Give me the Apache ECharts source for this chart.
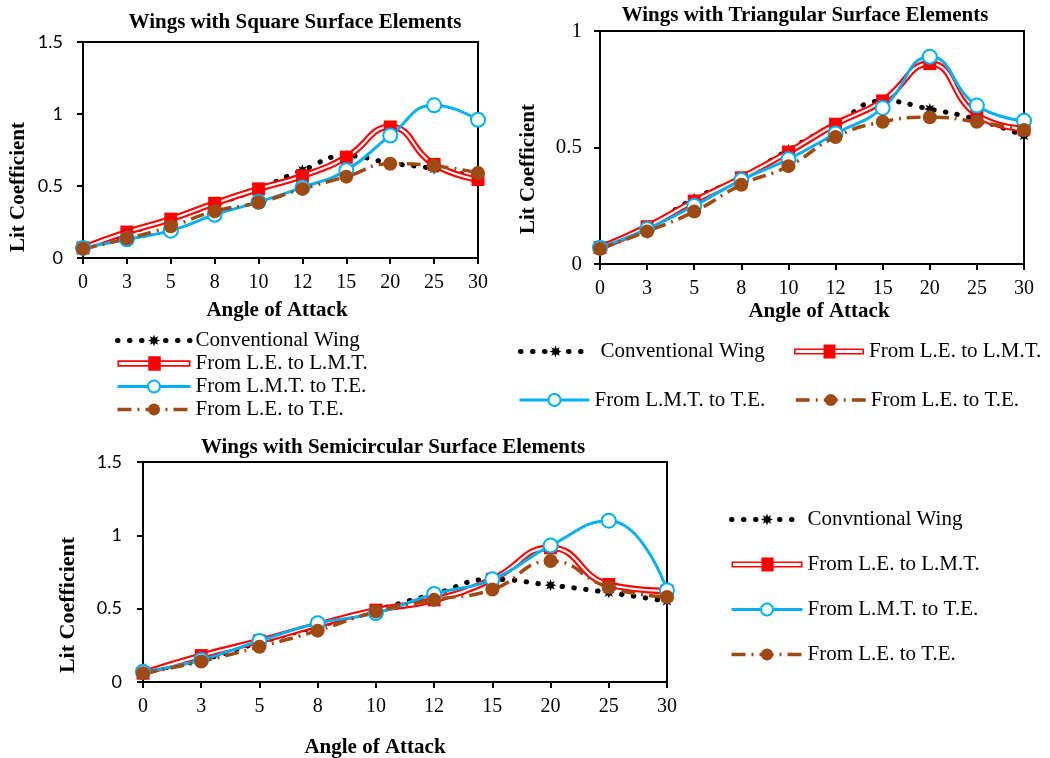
<!DOCTYPE html>
<html>
<head>
<meta charset="utf-8">
<title>Lift coefficient of wings with surface elements</title>
<script src="https://cdn.jsdelivr.net/npm/echarts@6.0.0/dist/echarts.min.js"></script>
<style>
html, body { margin: 0; padding: 0; background: #fff; }
#chart { width: 1050px; height: 758px; }
</style>
</head>
<body>
<div id="chart"></div>
<script>
var angles = ['0', '3', '5', '8', '10', '12', '15', '20', '25', '30'];

// square surface elements
var sqConv   = [0.07, 0.17, 0.27, 0.37, 0.48, 0.61, 0.71, 0.66, 0.62, 0.56];
var sqLeLmt  = [0.07, 0.18, 0.27, 0.38, 0.48, 0.57, 0.70, 0.91, 0.65, 0.545];
var sqLmtTe  = [0.07, 0.13, 0.19, 0.30, 0.39, 0.49, 0.61, 0.85, 1.06, 0.96];
var sqLeTe   = [0.065, 0.135, 0.22, 0.325, 0.385, 0.48, 0.565, 0.655, 0.64, 0.59];

// triangular surface elements
var triConv  = [0.07, 0.16, 0.28, 0.37, 0.49, 0.60, 0.70, 0.665, 0.62, 0.55];
var triLeLmt = [0.07, 0.16, 0.27, 0.37, 0.48, 0.60, 0.70, 0.86, 0.64, 0.58];
var triLmtTe = [0.07, 0.15, 0.25, 0.36, 0.45, 0.56, 0.67, 0.89, 0.68, 0.615];
var triLeTe  = [0.065, 0.14, 0.225, 0.34, 0.42, 0.545, 0.61, 0.63, 0.61, 0.575];

// semicircular surface elements
var semiConv  = [0.07, 0.15, 0.27, 0.38, 0.49, 0.60, 0.70, 0.66, 0.61, 0.55];
var semiLeLmt = [0.06, 0.18, 0.28, 0.39, 0.49, 0.56, 0.70, 0.915, 0.665, 0.62];
var semiLmtTe = [0.07, 0.15, 0.28, 0.40, 0.47, 0.60, 0.70, 0.93, 1.10, 0.625];
var semiLeTe  = [0.06, 0.14, 0.24, 0.35, 0.48, 0.56, 0.63, 0.825, 0.645, 0.58];

var CONV = 'Conventional Wing';
var CONV_B = 'Convntional Wing';
var LE_LMT = 'From L.E. to L.M.T.';
var LMT_TE = 'From L.M.T. to T.E.';
var LE_TE = 'From L.E. to T.E.';

var SERIF = '"Liberation Serif", "Times New Roman", serif';
var SANS = 'Lato, "Liberation Sans", sans-serif';
var RED = '#FF0000', BLUE = '#00B0F0', BROWN = '#9E4A12';

var STAR = 'path://M20,10L14.62,11.91L17.07,17.07L11.91,14.62L10,20L8.09,14.62L2.93,17.07L5.38,11.91L0,10L5.38,8.09L2.93,2.93L8.09,5.38L10,0L11.91,5.38L17.07,2.93L14.62,8.09Z';
// double red line with a square, for the legend
var RED_ICON = 'path://M0,4H70V5.6H0Z M0,8.4H70V10H0Z M0,4H1.6V10H0Z M68.4,4H70V10H68.4Z M29.5,0H41.5V14H29.5Z';

function wingSeries(idx, convName, conv, leLmt, lmtTe, leTe) {
    var base = {type: 'line', xAxisIndex: idx, yAxisIndex: idx, smooth: 0.5, animation: false, silent: true};
    function s(o) { return Object.assign({}, base, o); }
    return [
        s({name: convName, data: conv, symbol: STAR, symbolSize: 12, color: '#000',
           lineStyle: {color: '#000', width: 5, type: [0.5, 11.5], cap: 'round'}}),
        s({name: LE_LMT, data: leLmt, symbol: 'none', color: RED, lineStyle: {color: RED, width: 6.5}}),
        s({name: LE_LMT, data: leLmt, symbol: 'none', color: RED, lineStyle: {color: '#fff', width: 2.2}}),
        s({name: LE_LMT, data: leLmt, symbol: 'rect', symbolSize: 13, color: RED, lineStyle: {width: 0, opacity: 0}}),
        s({name: LMT_TE, data: lmtTe, symbol: 'emptyCircle', symbolSize: 14, color: BLUE,
           itemStyle: {borderWidth: 3}, lineStyle: {color: BLUE, width: 3}}),
        s({name: LE_TE, data: leTe, symbol: 'circle', symbolSize: 14, color: BROWN,
           lineStyle: {color: BROWN, width: 3.5, type: [14, 6, 2, 6]}})
    ];
}

function xAxisFor(idx, margin) {
    return {
        type: 'category', gridIndex: idx, data: angles, boundaryGap: false,
        axisLine: {lineStyle: {color: '#000', width: 2}},
        axisTick: {show: true, interval: 0, length: 6, lineStyle: {color: '#000', width: 2}},
        axisLabel: {interval: 0, color: '#000', fontFamily: SERIF, fontSize: 20, margin: margin},
        splitLine: {show: false}
    };
}

function yAxisFor(idx, max, font, size, margin) {
    return {
        type: 'value', gridIndex: idx, min: 0, max: max, interval: 0.5,
        axisLine: {show: true, lineStyle: {color: '#000', width: 2}},
        axisTick: {show: true, length: 6, lineStyle: {color: '#000', width: 2}},
        axisLabel: {color: '#000', fontFamily: font, fontSize: size, margin: margin},
        splitLine: {show: false}
    };
}

function legendAt(left, top, names, opts) {
    return Object.assign({
        orient: 'vertical', left: left, top: top, padding: 0,
        itemWidth: 70, itemHeight: 15, itemGap: 2, selectedMode: false,
        lineStyle: {width: 'inherit'},
        textStyle: {color: '#000', fontFamily: SERIF, fontSize: 21, lineHeight: 21},
        data: names.map(function (n) {
            return n === LE_LMT ? {name: n, icon: RED_ICON, itemStyle: {borderWidth: 0}} : {name: n};
        })
    }, opts || {});
}

function label(text, x, y, size, rotate) {
    return {
        type: 'text', x: x, y: y, rotation: rotate ? Math.PI / 2 : 0, silent: true,
        style: {text: text, fill: '#000', font: 'bold ' + size + 'px ' + SERIF,
                textAlign: 'center', textVerticalAlign: 'middle', align: 'center', verticalAlign: 'middle'}
    };
}

var gridBox = {show: true, borderColor: '#000', borderWidth: 2, backgroundColor: 'transparent'};

var option = {
    backgroundColor: '#fff',
    animation: false,
    grid: [
        Object.assign({left: 83, top: 42, width: 395, height: 216}, gridBox),
        Object.assign({left: 600, top: 31, width: 424, height: 233}, gridBox),
        Object.assign({left: 143, top: 462, width: 524, height: 220}, gridBox)
    ],
    xAxis: [xAxisFor(0, 15), xAxisFor(1, 15), xAxisFor(2, 15)],
    yAxis: [
        yAxisFor(0, 1.5, SANS, 18, 20),
        yAxisFor(1, 1, SERIF, 21, 18),
        yAxisFor(2, 1.5, SANS, 18, 21)
    ],
    legend: [
        legendAt(115, 330, [CONV, LE_LMT, LMT_TE, LE_TE], {itemWidth: 73, itemGap: 2}),
        legendAt(518, 341, [CONV], {textStyle: {color: '#000', fontFamily: SERIF, fontSize: 21, lineHeight: 21, padding: [0, 0, 0, 5]}}),
        legendAt(794, 341, [LE_LMT]),
        legendAt(518, 389.5, [LMT_TE]),
        legendAt(794, 389.5, [LE_TE]),
        legendAt(729, 509, [CONV_B, LE_LMT, LMT_TE, LE_TE], {itemWidth: 71, itemGap: 24})
    ],
    graphic: [
        label('Wings with Square Surface Elements', 295, 23, 21),
        label('Angle of Attack', 277, 311, 21),
        label('Lit Coefficient', 19, 187, 21, true),
        label('Wings with Triangular Surface Elements', 805, 16, 21),
        label('Angle of Attack', 819, 312, 21),
        label('Lit Coefficient', 529, 169, 21, true),
        label('Wings with Semicircular Surface Elements', 393, 448, 21),
        label('Angle of Attack', 375, 748, 21),
        label('Lit Coefficient', 68, 605, 22, true)
    ],
    series: [].concat(
        wingSeries(0, CONV, sqConv, sqLeLmt, sqLmtTe, sqLeTe),
        wingSeries(1, CONV, triConv, triLeLmt, triLmtTe, triLeTe),
        wingSeries(2, CONV_B, semiConv, semiLeLmt, semiLmtTe, semiLeTe)
    )
};

var chart = echarts.init(document.getElementById('chart'), null, {renderer: 'canvas'});
chart.setOption(option);
</script>
</body>
</html>
